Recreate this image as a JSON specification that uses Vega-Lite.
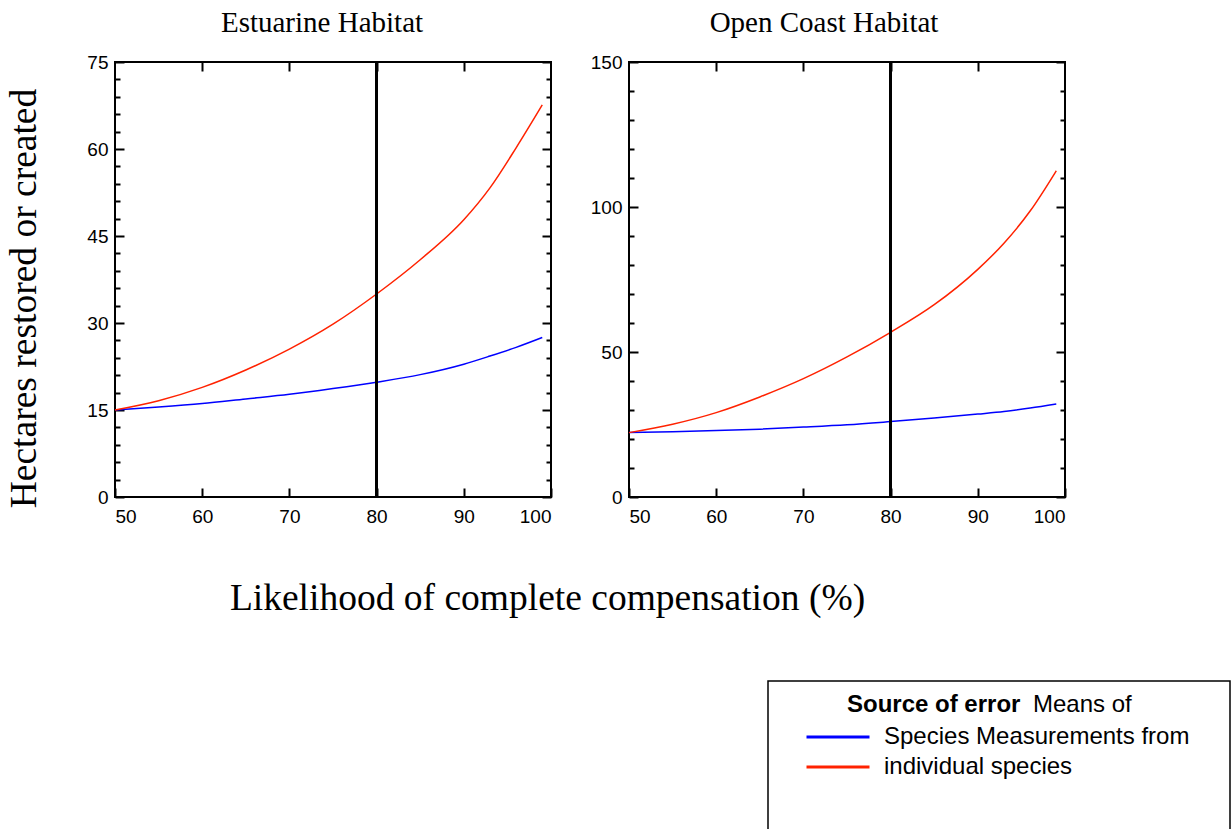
{
  "$schema": "https://vega.github.io/schema/vega-lite/v6.json",
  "autosize": {"type": "pad"},
  "padding": {"left": 3, "top": 8, "right": 0, "bottom": 0},
  "config": {
    "view": {"stroke": "black", "strokeWidth": 2},
    "axis": {
      "labelFont": "Liberation Sans", "labelFontSize": 19, "labelColor": "black",
      "tickColor": "black", "tickWidth": 2, "domain": false, "grid": false,
      "titleFont": "Liberation Serif", "titleFontWeight": "normal", "titleFontSize": 37.5, "titleColor": "black"
    },
    "title": {"font": "Liberation Serif", "fontSize": 29, "fontWeight": "normal", "color": "black", "anchor": "middle", "frame": "group", "baseline": "alphabetic", "offset": 15}
  },
  "data": {"values": [
    {"habitat": "Estuarine", "source": "Means of Species Measurements", "p": 50, "area": 15.0},
    {"habitat": "Estuarine", "source": "Means of Species Measurements", "p": 55, "area": 15.5},
    {"habitat": "Estuarine", "source": "Means of Species Measurements", "p": 60, "area": 16.1},
    {"habitat": "Estuarine", "source": "Means of Species Measurements", "p": 65, "area": 16.9},
    {"habitat": "Estuarine", "source": "Means of Species Measurements", "p": 70, "area": 17.7},
    {"habitat": "Estuarine", "source": "Means of Species Measurements", "p": 75, "area": 18.7},
    {"habitat": "Estuarine", "source": "Means of Species Measurements", "p": 80, "area": 19.8},
    {"habitat": "Estuarine", "source": "Means of Species Measurements", "p": 85, "area": 21.1},
    {"habitat": "Estuarine", "source": "Means of Species Measurements", "p": 90, "area": 22.9},
    {"habitat": "Estuarine", "source": "Means of Species Measurements", "p": 93, "area": 24.3},
    {"habitat": "Estuarine", "source": "Means of Species Measurements", "p": 96, "area": 25.8},
    {"habitat": "Estuarine", "source": "Means of Species Measurements", "p": 99, "area": 27.5},
    {"habitat": "Estuarine", "source": "Measurements from individual species", "p": 50, "area": 15.0},
    {"habitat": "Estuarine", "source": "Measurements from individual species", "p": 55, "area": 16.6},
    {"habitat": "Estuarine", "source": "Measurements from individual species", "p": 60, "area": 18.9},
    {"habitat": "Estuarine", "source": "Measurements from individual species", "p": 65, "area": 21.9},
    {"habitat": "Estuarine", "source": "Measurements from individual species", "p": 70, "area": 25.5},
    {"habitat": "Estuarine", "source": "Measurements from individual species", "p": 75, "area": 29.8},
    {"habitat": "Estuarine", "source": "Measurements from individual species", "p": 80, "area": 35.0},
    {"habitat": "Estuarine", "source": "Measurements from individual species", "p": 85, "area": 40.9},
    {"habitat": "Estuarine", "source": "Measurements from individual species", "p": 90, "area": 47.8},
    {"habitat": "Estuarine", "source": "Measurements from individual species", "p": 93, "area": 53.3},
    {"habitat": "Estuarine", "source": "Measurements from individual species", "p": 96, "area": 60.2},
    {"habitat": "Estuarine", "source": "Measurements from individual species", "p": 99, "area": 67.6},
    {"habitat": "Open Coast", "source": "Means of Species Measurements", "p": 50, "area": 22.2},
    {"habitat": "Open Coast", "source": "Means of Species Measurements", "p": 55, "area": 22.5},
    {"habitat": "Open Coast", "source": "Means of Species Measurements", "p": 60, "area": 22.9},
    {"habitat": "Open Coast", "source": "Means of Species Measurements", "p": 65, "area": 23.4},
    {"habitat": "Open Coast", "source": "Means of Species Measurements", "p": 70, "area": 24.1},
    {"habitat": "Open Coast", "source": "Means of Species Measurements", "p": 75, "area": 24.9},
    {"habitat": "Open Coast", "source": "Means of Species Measurements", "p": 80, "area": 26.0},
    {"habitat": "Open Coast", "source": "Means of Species Measurements", "p": 85, "area": 27.2},
    {"habitat": "Open Coast", "source": "Means of Species Measurements", "p": 90, "area": 28.6},
    {"habitat": "Open Coast", "source": "Means of Species Measurements", "p": 93, "area": 29.5},
    {"habitat": "Open Coast", "source": "Means of Species Measurements", "p": 96, "area": 30.7},
    {"habitat": "Open Coast", "source": "Means of Species Measurements", "p": 99, "area": 32.1},
    {"habitat": "Open Coast", "source": "Measurements from individual species", "p": 50, "area": 22.2},
    {"habitat": "Open Coast", "source": "Measurements from individual species", "p": 55, "area": 25.1},
    {"habitat": "Open Coast", "source": "Measurements from individual species", "p": 60, "area": 29.1},
    {"habitat": "Open Coast", "source": "Measurements from individual species", "p": 65, "area": 34.5},
    {"habitat": "Open Coast", "source": "Measurements from individual species", "p": 70, "area": 40.8},
    {"habitat": "Open Coast", "source": "Measurements from individual species", "p": 75, "area": 48.3},
    {"habitat": "Open Coast", "source": "Measurements from individual species", "p": 80, "area": 56.8},
    {"habitat": "Open Coast", "source": "Measurements from individual species", "p": 85, "area": 66.3},
    {"habitat": "Open Coast", "source": "Measurements from individual species", "p": 90, "area": 78.5},
    {"habitat": "Open Coast", "source": "Measurements from individual species", "p": 93, "area": 87.5},
    {"habitat": "Open Coast", "source": "Measurements from individual species", "p": 96, "area": 98.6},
    {"habitat": "Open Coast", "source": "Measurements from individual species", "p": 99, "area": 112.5}
  ]},
  "bounds": "flush",
  "spacing": 619,
  "vconcat": [
    {
      "bounds": "flush",
      "spacing": 78,
      "resolve": {"scale": {"color": "shared"}, "legend": {"color": "shared"}},
      "hconcat": [
        {
          "width": 436, "height": 435,
          "title": {"text": "Estuarine Habitat", "dx": -11},
          "transform": [{"filter": "datum.habitat === 'Estuarine'"}],
          "resolve": {"axis": {"x": "independent", "y": "independent"}},
          "layer": [
            {
              "mark": {"type": "line", "strokeWidth": 1.5, "interpolate": "monotone"},
              "encoding": {
                "x": {"field": "p", "type": "quantitative", "scale": {"domain": [50, 100], "nice": false, "zero": false},
                  "axis": {"orient": "bottom", "values": [50, 60, 70, 80, 90, 100], "tickSize": -9, "labelPadding": 19,
                    "title": "Likelihood of complete compensation (%)", "titleX": 432, "titleY": 112, "titleBaseline": "alphabetic", "titleAlign": "center"}},
                "y": {"field": "area", "type": "quantitative", "scale": {"domain": [0, 75], "nice": false},
                  "axis": {"orient": "left", "values": [0,3,6,9,12,15,18,21,24,27,30,33,36,39,42,45,48,51,54,57,60,63,66,69,72,75],
                    "tickSize": {"condition": {"test": "datum.value % 15 === 0", "value": -9}, "value": -5},
                    "labelPadding": 16, "labelExpr": "datum.value % 15 === 0 ? datum.label : ''",
                    "title": "Hectares restored or created", "titleX": -80, "titleY": 236, "titleBaseline": "alphabetic", "titleAlign": "center", "titleAngle": -90}},
                "color": {"field": "source", "type": "nominal",
                  "scale": {"domain": ["Means of Species Measurements", "Measurements from individual species"], "range": ["#0000ff", "#ff2200"]},
                  "legend": {"orient": "none", "legendX": 732, "legendY": 631, "padding": 0,
                    "title": "Source of error", "titleFont": "Liberation Sans", "titleFontSize": 24, "titleFontWeight": "bold", "titleColor": "black", "titlePadding": 8,
                    "labelFont": "Liberation Sans", "labelFontSize": 24, "labelColor": "black", "labelOffset": 34, "labelLimit": 0,
                    "labelExpr": "datum.label === 'Means of Species Measurements' ? 'Species Measurements from' : 'individual species'",
                    "symbolType": "M-3,0H3", "symbolSize": 441, "symbolStrokeWidth": 3, "symbolOffset": -21, "rowPadding": 6}}
              }
            },
            {
              "mark": {"type": "rule", "color": "black", "strokeWidth": 2},
              "encoding": {
                "x": {"datum": 80, "axis": {"orient": "top", "values": [60, 70, 80, 90], "tickSize": -9, "labels": false, "title": null}},
                "y": {"datum": 0, "axis": {"orient": "right", "values": [0,3,6,9,12,15,18,21,24,27,30,33,36,39,42,45,48,51,54,57,60,63,66,69,72,75],
                    "tickSize": {"condition": {"test": "datum.value % 15 === 0", "value": -9}, "value": -5}, "labels": false, "title": null}},
                "y2": {"datum": 75}
              }
            }
          ]
        },
        {
          "width": 436, "height": 435,
          "title": {"text": "Open Coast Habitat", "dx": -23},
          "transform": [{"filter": "datum.habitat === 'Open Coast'"}],
          "resolve": {"axis": {"x": "independent", "y": "independent"}},
          "layer": [
            {
              "mark": {"type": "line", "strokeWidth": 1.5, "interpolate": "monotone"},
              "encoding": {
                "x": {"field": "p", "type": "quantitative", "scale": {"domain": [50, 100], "nice": false, "zero": false},
                  "axis": {"orient": "bottom", "values": [50, 60, 70, 80, 90, 100], "tickSize": -9, "labelPadding": 19, "title": null}},
                "y": {"field": "area", "type": "quantitative", "scale": {"domain": [0, 150], "nice": false},
                  "axis": {"orient": "left", "values": [0,10,20,30,40,50,60,70,80,90,100,110,120,130,140,150],
                    "tickSize": {"condition": {"test": "datum.value % 50 === 0", "value": -9}, "value": -5},
                    "labelPadding": 16, "labelExpr": "datum.value % 50 === 0 ? datum.label : ''", "title": null}},
                "color": {"field": "source", "type": "nominal",
                  "scale": {"domain": ["Means of Species Measurements", "Measurements from individual species"], "range": ["#0000ff", "#ff2200"]},
                  "legend": {"orient": "none", "legendX": 732, "legendY": 631, "padding": 0,
                    "title": "Source of error", "titleFont": "Liberation Sans", "titleFontSize": 24, "titleFontWeight": "bold", "titleColor": "black", "titlePadding": 8,
                    "labelFont": "Liberation Sans", "labelFontSize": 24, "labelColor": "black", "labelOffset": 34, "labelLimit": 0,
                    "labelExpr": "datum.label === 'Means of Species Measurements' ? 'Species Measurements from' : 'individual species'",
                    "symbolType": "M-3,0H3", "symbolSize": 441, "symbolStrokeWidth": 3, "symbolOffset": -21, "rowPadding": 6}}
              }
            },
            {
              "mark": {"type": "rule", "color": "black", "strokeWidth": 2},
              "encoding": {
                "x": {"datum": 80, "axis": {"orient": "top", "values": [60, 70, 80, 90], "tickSize": -9, "labels": false, "title": null}},
                "y": {"datum": 0, "axis": {"orient": "right", "values": [0,10,20,30,40,50,60,70,80,90,100,110,120,130,140,150],
                    "tickSize": {"condition": {"test": "datum.value % 50 === 0", "value": -9}, "value": -5}, "labels": false, "title": null}},
                "y2": {"datum": 150}
              }
            }
          ]
        }
      ]
    },
    {
      "bounds": "flush",
      "spacing": 0,
      "hconcat": [
        {"width": 653, "height": 10, "data": {"values": []}, "mark": "point", "view": {"stroke": null}},
        {"width": 462, "height": 160, "data": {"values": []}, "mark": "point", "view": {"stroke": "black", "strokeWidth": 1.5},
          "title": {"text": "Means of", "font": "Liberation Sans", "fontSize": 24, "fontWeight": "normal", "anchor": "start", "frame": "group", "baseline": "alphabetic", "offset": -55, "dx": 265}}
      ]
    }
  ]
}
